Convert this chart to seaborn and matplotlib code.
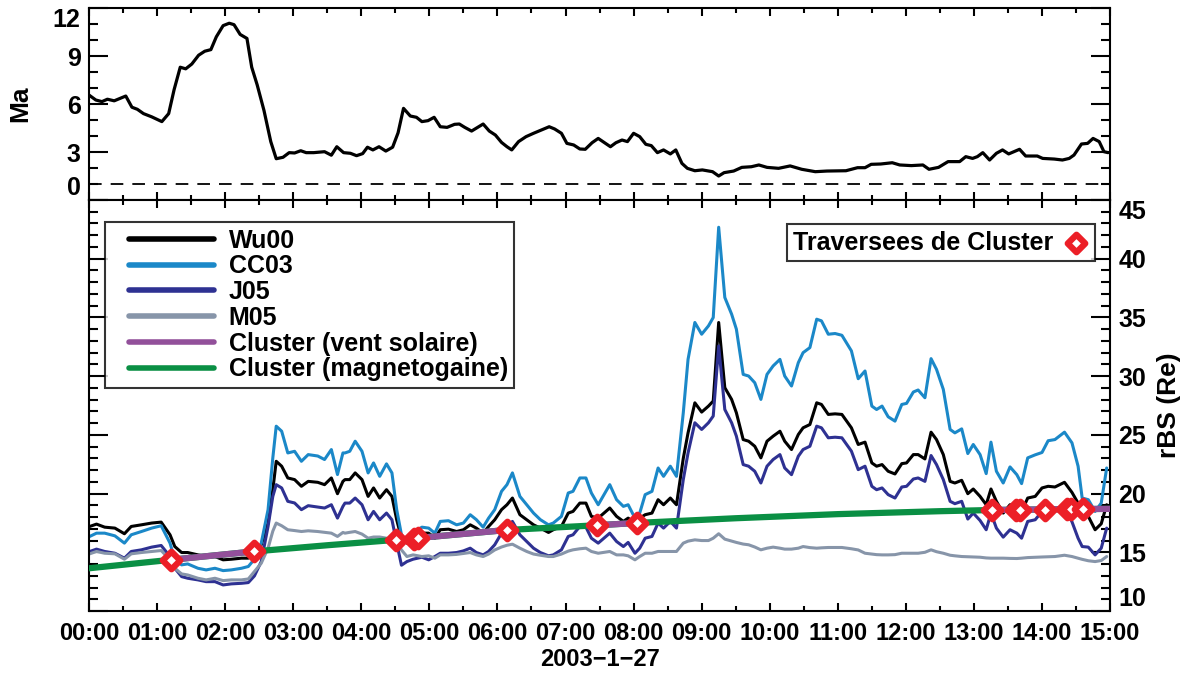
"""
Mach number and bow shock standoff distance on 2003-01-27: models vs Cluster crossings.
"""

import numpy as np
import pandas as pd
import seaborn as sns
import matplotlib.pyplot as plt
from matplotlib.lines import Line2D
from matplotlib.legend_handler import HandlerLine2D
from matplotlib.ticker import MultipleLocator

# ---- top panel: Alfven Mach number (hours since 00:00) ----
ma_time = [0.00, 0.10, 0.19, 0.27, 0.37, 0.54, 0.63, 0.71, 0.80, 0.92, 1.07, 1.17, 1.25, 1.34,
           1.42, 1.51, 1.61, 1.70, 1.79, 1.87, 1.97, 2.06, 2.13, 2.22, 2.32, 2.39, 2.47, 2.57,
           2.67, 2.75, 2.85, 2.94, 3.02, 3.11, 3.19, 3.30, 3.46, 3.56, 3.64, 3.74, 3.84, 3.93,
           4.02, 4.09, 4.17, 4.26, 4.36, 4.46, 4.54, 4.62, 4.72, 4.81, 4.89, 4.98, 5.07, 5.16,
           5.26, 5.37, 5.44, 5.52, 5.62, 5.71, 5.79, 5.88, 5.97, 6.06, 6.14, 6.21, 6.31, 6.42,
           6.53, 6.65, 6.76, 6.84, 6.94, 7.02, 7.12, 7.21, 7.29, 7.39, 7.48, 7.66, 7.74, 7.83,
           7.91, 8.00, 8.09, 8.18, 8.26, 8.35, 8.44, 8.54, 8.62, 8.71, 8.79, 8.90, 9.01, 9.16,
           9.25, 9.33, 9.47, 9.59, 9.73, 9.84, 9.96, 10.13, 10.30, 10.47, 10.67, 10.84, 11.12,
           11.29, 11.40, 11.49, 11.63, 11.80, 11.91, 12.08, 12.25, 12.34, 12.48, 12.62, 12.79,
           12.88, 12.98, 13.05, 13.13, 13.23, 13.33, 13.42, 13.51, 13.67, 13.76, 13.93, 14.01,
           14.18, 14.30, 14.40, 14.47, 14.58, 14.67, 14.75, 14.84, 14.91, 14.97]
ma_value = [6.56, 6.25, 6.15, 6.30, 6.20, 6.50, 5.80, 5.67, 5.40, 5.20, 4.90, 5.40, 6.90, 8.30,
            8.20, 8.50, 9.05, 9.30, 9.40, 10.20, 10.90, 11.05, 10.96, 10.35, 10.10, 8.30, 7.20, 5.60,
            3.65, 2.58, 2.67, 2.96, 2.94, 3.08, 2.96, 2.96, 3.02, 2.80, 3.33, 2.96, 2.92, 2.77,
            2.90, 3.30, 3.13, 3.33, 3.06, 3.30, 4.20, 5.73, 5.25, 5.17, 4.90, 4.96, 5.17, 4.58,
            4.54, 4.73, 4.75, 4.54, 4.31, 4.54, 4.75, 4.31, 4.06, 3.60, 3.33, 3.13, 3.65, 3.96,
            4.17, 4.38, 4.58, 4.44, 4.17, 3.54, 3.44, 3.19, 3.17, 3.58, 3.85, 3.33, 3.58, 3.75,
            3.65, 4.17, 3.96, 3.48, 3.40, 2.96, 3.13, 2.88, 3.13, 2.29, 1.98, 1.83, 1.88, 1.77,
            1.50, 1.71, 1.81, 2.04, 2.08, 2.19, 2.04, 1.98, 2.13, 1.92, 1.77, 1.81, 1.83,
            2.02, 2.02, 2.23, 2.25, 2.33, 2.19, 2.15, 2.19, 1.92, 2.04, 2.40, 2.40,
            2.71, 2.60, 2.71, 2.96, 2.50, 2.92, 3.13, 2.88, 3.17, 2.75, 2.75, 2.60,
            2.56, 2.50, 2.60, 2.81, 3.50, 3.54, 3.85, 3.65, 3.02, 2.96]
ma_threshold = 1.0

# ---- bottom panel: bow shock standoff (Re) from the four models ----
model_time = [0.01, 0.11, 0.23, 0.38, 0.52, 0.62, 0.77, 0.92, 1.06, 1.19, 1.26, 1.36, 1.45, 1.60,
              1.72, 1.85, 1.97, 2.09, 2.24, 2.34, 2.43, 2.53, 2.63, 2.70, 2.75, 2.83, 2.92, 3.02,
              3.12, 3.22, 3.36, 3.46, 3.56, 3.65, 3.73,
              3.76, 3.83, 3.91, 4.01, 4.10, 4.18, 4.27, 4.37, 4.45, 4.52, 4.59, 4.67, 4.76, 4.89,
              4.99, 5.08, 5.16, 5.28, 5.40, 5.50, 5.60, 5.69, 5.79, 5.87, 5.96, 6.06, 6.14, 6.22,
              6.33, 6.43, 6.53, 6.63, 6.75, 6.82, 6.94, 7.04, 7.11, 7.21, 7.30, 7.38,
              7.48, 7.65, 7.75, 7.85, 7.92, 8.02, 8.09, 8.17, 8.27, 8.36, 8.44, 8.54, 8.63, 8.73,
              8.80, 8.90, 9.00, 9.10, 9.17, 9.25, 9.34, 9.44, 9.51, 9.61, 9.69, 9.78, 9.87, 9.96,
              10.05, 10.15, 10.22, 10.32, 10.42, 10.49, 10.59, 10.69, 10.76, 10.86, 10.96, 11.06,
              11.20, 11.30, 11.40, 11.50, 11.57, 11.65, 11.74, 11.84, 11.94, 12.01, 12.11, 12.18,
              12.28, 12.37, 12.45, 12.55, 12.65, 12.72, 12.82, 12.91, 12.99, 13.09, 13.18, 13.25,
              13.33, 13.43, 13.53, 13.63, 13.70, 13.79, 13.90, 14.00, 14.09, 14.19, 14.33, 14.44,
              14.53, 14.59, 14.68, 14.78, 14.87, 14.95]
wu00 = [17.20, 17.40, 17.14, 17.06, 16.58, 17.20, 17.34, 17.49, 17.57, 16.49, 15.49, 14.98, 14.98, 14.78,
        14.64, 14.64, 14.36, 14.41, 14.50, 14.50, 14.92, 15.64, 17.49, 20.33, 22.75, 22.33, 21.33, 21.19,
        20.62, 21.04, 20.96, 20.76, 21.33, 19.99, 21.04,
        21.19, 21.19, 21.76, 21.19, 19.76, 20.48, 19.62, 20.33, 19.76, 17.77, 16.20, 15.78, 16.49, 16.63,
        16.63, 16.20, 16.92, 16.97, 16.77, 16.92, 17.34, 17.06, 16.63, 17.20, 17.77, 18.63, 19.05, 19.62,
        18.20, 17.77, 17.34, 17.06, 16.69, 16.92, 17.20, 18.34, 18.48, 19.19, 19.19, 18.06,
        17.91, 18.77, 18.06, 17.63, 17.91, 17.49, 17.91, 18.20, 18.34, 19.48, 19.05, 19.62, 19.05, 23.00,
        25.17, 27.73, 26.94, 27.45, 27.88, 34.57, 29.02, 28.02, 26.88, 24.60, 24.46, 24.03, 23.04, 24.46,
        24.89, 25.31, 24.46, 23.75, 25.03, 25.60, 25.88, 27.73, 27.59, 26.74, 26.79, 26.74,
        25.60, 24.18, 24.38, 22.61, 22.33, 22.47, 21.90, 21.67, 22.55, 22.61, 23.32, 23.32,
        22.95, 25.23, 24.60, 23.32, 21.04, 20.90, 21.13, 19.99, 20.39, 19.76, 19.05, 20.39,
        19.34, 18.34, 19.05, 18.85, 18.48, 19.62, 19.76, 20.48, 20.62, 20.56, 20.96, 20.10,
        19.19, 18.20, 18.06, 16.92, 17.43, 19.05]
cc03 = [16.35, 16.63, 16.63, 16.40, 15.78, 16.49, 16.77, 17.06, 17.26, 15.78, 14.36, 13.93, 14.01, 13.64,
        13.50, 13.64, 13.44, 13.50, 13.64, 13.79, 14.41, 15.78, 18.63, 23.04, 25.74, 25.31, 23.46, 23.60,
        22.75, 23.32, 23.20, 22.90, 23.75, 21.62, 23.46,
        23.46, 23.60, 24.46, 23.60, 21.76, 22.61, 21.47, 22.53, 21.76, 18.63, 16.49, 15.92, 16.63, 17.14,
        17.06, 16.63, 17.63, 17.69, 17.34, 17.49, 18.20, 17.78, 17.14, 17.91, 18.63, 20.19, 20.76, 21.76,
        19.76, 19.05, 18.34, 17.78, 17.34, 17.49, 18.06, 20.05, 20.19, 21.33, 21.33, 20.05,
        19.05, 20.76, 19.48, 18.91, 19.05, 17.91, 18.34, 19.91, 20.19, 22.18, 21.47, 22.33, 21.47, 26.88,
        31.43, 34.57, 33.57, 34.28, 34.99, 42.68, 36.70, 35.28, 34.00, 30.15, 30.01, 29.44, 28.02, 30.15,
        30.87, 31.43, 30.01, 29.16, 31.15, 32.00, 32.43, 34.85, 34.71, 33.57, 33.63, 33.48,
        32.15, 29.78, 30.44, 27.45, 27.16, 27.45, 26.54, 26.17, 27.59, 27.68, 28.65, 28.82,
        28.16, 31.49, 30.58, 28.87, 25.46, 25.17, 25.51, 23.41, 24.18, 23.32, 21.70, 24.38,
        21.90, 20.90, 22.27, 21.61, 20.85, 23.04, 23.30, 23.50, 24.50, 24.60, 25.23, 24.32,
        22.33, 19.62, 19.48, 18.48, 19.19, 22.18]
j05 = [15.07, 15.27, 15.07, 14.92, 14.50, 15.07, 15.21, 15.44, 15.58, 14.64, 13.64, 12.93, 12.79, 12.65,
       12.50, 12.50, 12.22, 12.31, 12.36, 12.42, 12.99, 14.21, 17.20, 19.76, 20.76, 20.48, 19.34, 19.20,
       18.63, 18.97, 18.85, 18.77, 19.05, 17.91, 18.91,
       19.19, 19.19, 19.62, 19.05, 17.77, 18.48, 17.77, 18.34, 17.77, 15.78, 13.90, 14.21, 14.41, 14.58,
       14.36, 14.64, 14.92, 14.92, 14.98, 15.12, 15.35, 14.98, 14.78, 15.07, 15.64, 16.63, 16.92, 17.63,
       16.49, 15.92, 15.35, 14.98, 14.70, 14.78, 15.21, 16.35, 16.49, 17.20, 17.14, 16.20,
       15.78, 16.63, 15.92, 15.49, 15.84, 14.92, 15.35, 16.20, 16.35, 17.49, 17.06, 17.63, 17.06, 21.19,
       23.46, 26.03, 25.46, 26.03, 26.60, 32.57, 27.16, 26.03, 24.89, 22.47, 22.33, 21.90, 20.90, 22.33,
       22.90, 23.32, 22.18, 21.61, 23.18, 23.75, 24.03, 25.74, 25.60, 24.75, 24.80, 24.75,
       23.61, 22.04, 22.33, 20.62, 20.33, 20.48, 19.91, 19.62, 20.56, 20.62, 21.24, 21.33,
       21.04, 23.24, 22.47, 21.19, 19.34, 19.14, 19.34, 17.83, 18.34, 17.71, 16.92, 18.34,
       17.06, 16.29, 16.92, 16.63, 16.20, 17.63, 17.77, 18.48, 18.63, 18.57, 18.77, 17.60,
       16.20, 15.49, 15.44, 14.78, 15.35, 17.06]
m05 = [14.87, 15.07, 14.92, 14.87, 14.41, 14.87, 14.98, 15.07, 15.15, 14.36, 13.64, 13.16, 13.07, 12.79,
       12.65, 12.79, 12.59, 12.65, 12.65, 12.73, 13.36, 14.07, 15.35, 16.80, 17.49, 17.26, 16.92, 16.85,
       16.77, 16.83, 16.77, 16.70, 16.63, 16.35, 16.69,
       16.63, 16.70, 16.77, 16.55, 16.20, 16.30, 16.30, 16.20, 16.10, 15.85, 15.20, 14.64, 14.78, 14.64,
       14.70, 14.50, 14.78, 14.78, 14.82, 14.90, 14.98, 14.78, 14.64, 14.85, 15.20, 15.45, 15.60, 15.69,
       15.35, 15.07, 14.85, 14.75, 14.64, 14.64, 14.85, 15.10, 15.21, 15.30, 15.35, 15.07,
       14.92, 15.07, 14.78, 14.78, 14.70, 14.36, 14.64, 14.92, 14.92, 15.07, 15.07, 15.07, 15.07, 15.78,
       15.95, 16.06, 16.00, 16.00, 16.20, 16.58, 16.12, 15.95, 15.84, 15.70, 15.64, 15.45, 15.21, 15.35,
       15.44, 15.35, 15.27, 15.27, 15.35, 15.49, 15.40, 15.35, 15.38, 15.41, 15.41, 15.41,
       15.30, 15.20, 14.92, 14.85, 14.80, 14.78, 14.78, 14.80, 14.92, 14.92, 14.92, 14.92,
       15.00, 15.21, 15.05, 14.92, 14.75, 14.70, 14.64, 14.62, 14.60, 14.58, 14.52, 14.50,
       14.50, 14.50, 14.48, 14.47, 14.50, 14.55, 14.58, 14.60, 14.62, 14.64, 14.75, 14.64,
       14.50, 14.40, 14.28, 14.21, 14.30, 14.64]

# Cluster-derived standoff and the regime Cluster was in
cluster_time = [0.0, 1.20, 2.42, 3.50, 4.51, 4.80, 6.14, 7.46, 8.05, 9.50, 11.0, 12.5, 13.26, 14.0, 15.0]
cluster_rbs = [13.64, 14.36, 15.07, 15.60, 16.06, 16.20, 16.90, 17.30, 17.50, 17.90, 18.25, 18.50, 18.60, 18.65, 18.70]
solar_wind_spans = [(1, 2), (4, 6), (7, 8), (12, 14)]  # index ranges into cluster_time

cross_time = [1.20, 2.42, 4.51, 4.77, 4.83, 6.14, 7.46, 8.05, 13.26, 13.62, 13.68, 14.05, 14.37, 14.43, 14.60]
cross_rbs = [14.36, 15.07, 16.06, 16.17, 16.20, 16.90, 17.30, 17.50, 18.60, 18.62, 18.62, 18.64, 18.65, 18.65, 18.66]

hour_ticks = list(range(0, 16))
hour_labels = [f"{h:02d}:00" for h in hour_ticks]
ma_ticks = [0, 3, 6, 9, 12]
rbs_ticks = [10, 15, 20, 25, 30, 35, 40, 45]

model_colors = {"Wu00": "black", "CC03": "#1b88c8", "J05": "#2e3192", "M05": "#8795a9"}
SW_COLOR = "#92509a"
MSH_COLOR = "#0a8f44"
CROSS_COLOR = "#ec1f27"

sns.set_theme(style="ticks")
plt.rcParams["font.family"] = ["Liberation Sans", "DejaVu Sans"]
plt.rcParams["font.weight"] = "bold"
plt.rcParams["axes.labelweight"] = "bold"
plt.rcParams["axes.linewidth"] = 1.5
for key in ["text.color", "axes.labelcolor", "xtick.color", "ytick.color", "axes.edgecolor"]:
    plt.rcParams[key] = "black"


def style_axis(ax, yminor):
    ax.set_xlim(0, 15)
    ax.xaxis.set_major_locator(MultipleLocator(1))
    ax.xaxis.set_minor_locator(MultipleLocator(0.5))
    ax.yaxis.set_minor_locator(MultipleLocator(yminor))
    ax.tick_params(which="both", direction="in", top=True, bottom=True, left=True, right=True,
                   width=1.5, colors="black", labelcolor="black")
    ax.tick_params(axis="x", which="major", length=6)
    ax.tick_params(axis="x", which="minor", length=3.5)
    ax.tick_params(axis="y", which="major", length=14)
    ax.tick_params(axis="y", which="minor", length=6.5)
    for spine in ax.spines.values():
        spine.set_visible(True)
        spine.set_color("black")
        spine.set_linewidth(1.5)


fig = plt.figure(figsize=(11.87, 6.75), dpi=100)
ax_ma = fig.add_axes([0.075, 0.7037, 0.8602, 0.2844])
ax_bs = fig.add_axes([0.075, 0.0948, 0.8602, 0.6089])

# ---- top panel ----
sns.lineplot(x=ma_time, y=ma_value, ax=ax_ma, color="black", linewidth=2.3, estimator=None)
ax_ma.axhline(ma_threshold, color="black", linewidth=1.3, dashes=(7, 5))
style_axis(ax_ma, 1)
ax_ma.set_ylim(0, 12)
ax_ma.set_yticks(ma_ticks)
ax_ma.set_yticklabels([str(v) for v in ma_ticks], fontsize=18, fontweight="bold")
ax_ma.set_xticks(hour_ticks)
ax_ma.tick_params(axis="x", labelbottom=False)
ax_ma.tick_params(axis="y", pad=6)
ax_ma.set_ylabel("Ma", fontsize=19, fontweight="bold", labelpad=15)
ax_ma.set_xlabel("")
ylabels = ax_ma.get_yticklabels()
ylabels[0].set_va("bottom")
ylabels[-1].set_va("top")

# ---- bottom panel ----
for name, values in [("Wu00", wu00), ("CC03", cc03), ("J05", j05), ("M05", m05)]:
    sns.lineplot(x=model_time, y=values, ax=ax_bs, color=model_colors[name], linewidth=2.2,
                 estimator=None, label=name)

cluster_df = pd.DataFrame({"time": cluster_time, "rbs": cluster_rbs})
sns.lineplot(data=cluster_df, x="time", y="rbs", ax=ax_bs, color=MSH_COLOR, linewidth=4.5,
             estimator=None, zorder=3)
for i, (start, stop) in enumerate(solar_wind_spans):
    seg = cluster_df.iloc[start:stop + 1]
    sns.lineplot(data=seg, x="time", y="rbs", ax=ax_bs, color=SW_COLOR, linewidth=4.5,
                 estimator=None, zorder=4,
                 label="Cluster (vent solaire)" if i == 0 else None)

sns.scatterplot(x=cross_time, y=cross_rbs, ax=ax_bs, marker="D", s=80, color="white",
                edgecolor=CROSS_COLOR, linewidth=4.5, zorder=6, label="Traversees de Cluster")

style_axis(ax_bs, 1)
ax_bs.set_ylim(10, 45)
ax_bs.set_yticks(rbs_ticks)
ax_bs.set_yticklabels([str(v) for v in rbs_ticks], fontsize=18, fontweight="bold")
ax_bs.tick_params(axis="y", labelleft=False, labelright=True, pad=6)
ax_bs.yaxis.set_label_position("right")
ax_bs.set_ylabel("rBS (Re)", fontsize=19, fontweight="bold", labelpad=8)
ax_bs.set_xticks(hour_ticks)
ax_bs.set_xticklabels(hour_labels, fontsize=17, fontweight="bold")
ax_bs.tick_params(axis="x", pad=8)
ax_bs.set_xlabel("2003\u22121\u221227", fontsize=17, fontweight="bold", labelpad=2)
rlabels = ax_bs.get_yticklabels()
rlabels[0].set_va("bottom")
rlabels[-1].set_va("top")

# legends
handles, labels = ax_bs.get_legend_handles_labels()
lookup = dict(zip(labels, handles))
msh_handle = Line2D([], [], color=MSH_COLOR, linewidth=4.5)
model_handles = [lookup["Wu00"], lookup["CC03"], lookup["J05"], lookup["M05"],
                 lookup["Cluster (vent solaire)"], msh_handle]
model_labels = ["Wu00", "CC03", "J05", "M05", "Cluster (vent solaire)", "Cluster (magnetogaine)"]
leg1 = ax_bs.legend(model_handles, model_labels, loc="upper left", bbox_to_anchor=(0.0152, 0.946),
                    borderaxespad=0, frameon=True, fancybox=False, edgecolor="black",
                    prop={"size": 18, "weight": "bold"}, handlelength=4.8, handletextpad=-0.1,
                    labelspacing=0.07, borderpad=0.26,
                    handler_map={Line2D: HandlerLine2D(numpoints=2, marker_pad=0.7)})
leg1.get_frame().set_linewidth(1.5)
for line in leg1.get_lines():
    line.set_linewidth(4)
ax_bs.add_artist(leg1)

leg2 = ax_bs.legend([lookup["Traversees de Cluster"]], ["Traversees de Cluster"], loc="upper right",
                    bbox_to_anchor=(0.9853, 0.9415), borderaxespad=0, frameon=True, fancybox=False,
                    edgecolor="black", prop={"size": 18, "weight": "bold"}, markerfirst=False,
                    handlelength=1.0, handletextpad=0.4, borderpad=0.26)
leg2.get_frame().set_linewidth(1.5)

fig.savefig("out.png", dpi=100)
plt.close(fig)
